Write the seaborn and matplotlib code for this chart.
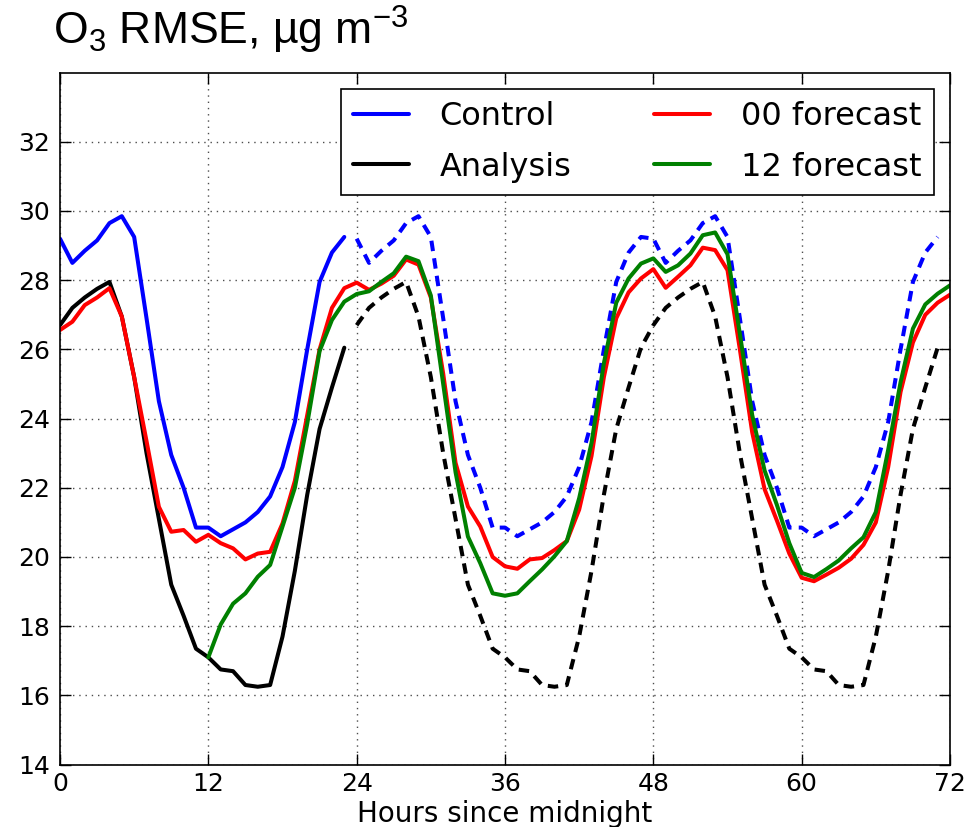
import matplotlib
matplotlib.use("Agg")
import matplotlib.pyplot as plt
import seaborn as sns

# ---------------- data ----------------
hours_day1 = list(range(0, 24))
hours_rest = list(range(24, 72))
hours_00 = list(range(0, 73))
hours_12 = list(range(12, 73))

control_day1 = [29.2, 28.5, 28.85, 29.15, 29.65, 29.85, 29.25, 26.9, 24.5, 22.95, 22.0, 20.85,
                20.85, 20.6, 20.8, 21.0, 21.3, 21.75, 22.6, 23.9, 26.0, 27.95, 28.8, 29.25]
control_rest = [29.2, 28.5, 28.85, 29.15, 29.65, 29.85, 29.25, 26.9, 24.5, 22.95, 22.0, 20.85,
                20.85, 20.6, 20.8, 21.0, 21.3, 21.75, 22.6, 23.9, 26.0, 27.95, 28.8, 29.25,
                29.2, 28.5, 28.85, 29.15, 29.65, 29.85, 29.25, 26.9, 24.5, 22.95, 22.0, 20.85,
                20.85, 20.6, 20.8, 21.0, 21.3, 21.75, 22.6, 23.9, 26.0, 27.95, 28.8, 29.25]

analysis_day1 = [26.7, 27.2, 27.5, 27.75, 27.95, 26.95, 25.2, 23.0, 21.1, 19.2, 18.3, 17.35,
                 17.1, 16.75, 16.7, 16.3, 16.25, 16.3, 17.7, 19.6, 21.8, 23.7, 24.9, 26.05]
analysis_rest = [26.7, 27.2, 27.5, 27.75, 27.95, 26.95, 25.2, 23.0, 21.1, 19.2, 18.3, 17.35,
                 17.1, 16.75, 16.7, 16.3, 16.25, 16.3, 17.7, 19.6, 21.8, 23.7, 24.9, 26.05,
                 26.7, 27.2, 27.5, 27.75, 27.95, 26.95, 25.2, 23.0, 21.1, 19.2, 18.3, 17.35,
                 17.1, 16.75, 16.7, 16.3, 16.25, 16.3, 17.7, 19.6, 21.8, 23.7, 24.9, 26.05]

forecast_00 = [26.56, 26.8, 27.28, 27.5, 27.77, 26.95, 25.2, 23.35, 21.45, 20.73, 20.78, 20.44,
               20.64, 20.4, 20.25, 19.93, 20.1, 20.15, 20.97, 22.2, 24.1, 26.0, 27.2, 27.77,
               27.93, 27.72, 27.9, 28.13, 28.6, 28.45, 27.5, 25.3, 22.72, 21.46, 20.88, 20.0,
               19.73, 19.66, 19.93, 19.97, 20.2, 20.46, 21.37, 22.92, 25.2, 26.9, 27.65, 28.05,
               28.32, 27.78, 28.1, 28.43, 28.94, 28.87, 28.29, 26.0, 23.6, 21.96, 21.05, 20.1,
               19.4, 19.3, 19.49, 19.69, 19.95, 20.35, 21.0, 22.6, 24.77, 26.2, 27.0, 27.35,
               27.58]

forecast_12 = [17.1, 18.05, 18.65, 18.95, 19.43, 19.77, 20.88, 22.0, 23.85, 25.95, 26.85, 27.38,
               27.6, 27.68, 27.95, 28.2, 28.68, 28.55, 27.56, 25.0, 22.45, 20.59, 19.82, 18.95,
               18.88, 18.95, 19.3, 19.64, 20.02, 20.46, 21.7, 23.3, 25.6, 27.35, 28.05, 28.48,
               28.63, 28.24, 28.43, 28.77, 29.3, 29.38, 28.75, 26.45, 24.1, 22.5, 21.5, 20.4,
               19.54, 19.42, 19.65, 19.9, 20.25, 20.57, 21.3, 23.1, 25.05, 26.6, 27.3, 27.61,
               27.85]

xticks = [0, 12, 24, 36, 48, 60, 72]
yticks = [14, 16, 18, 20, 22, 24, 26, 28, 30, 32]
legend_labels = ["Control", "Analysis", "00 forecast", "12 forecast"]

# ---------------- style ----------------
sns.set_style("ticks")
plt.rcParams["font.family"] = ["DejaVu Sans"]
plt.rcParams["mathtext.default"] = "regular"
plt.rcParams["text.color"] = "black"
plt.rcParams["axes.labelcolor"] = "black"
plt.rcParams["xtick.color"] = "black"
plt.rcParams["ytick.color"] = "black"

W, H = 978, 827
fig = plt.figure(figsize=(W / 100, H / 100), dpi=100)
ax = fig.add_axes([60 / W, 1 - 764.6 / H, 890 / W, (764.6 - 72.6) / H])

LW = 2.9
DASH = (0, (2.6, 1.8))


def draw(x, y, color, ls, label=None):
    kw = dict(x=x, y=y, color=color, linestyle=ls, linewidth=LW, ax=ax,
              errorbar=None, estimator=None, sort=False, legend=False)
    if label is not None:
        kw["label"] = label
    sns.lineplot(**kw)
    return ax.lines[-1]


l_ctrl = draw(hours_day1, control_day1, "#0000ff", "-")
l_anal = draw(hours_day1, analysis_day1, "black", "-")
draw(hours_rest, control_rest, "#0000ff", DASH)
draw(hours_rest, analysis_rest, "black", DASH)
l_00 = draw(hours_00, forecast_00, "#ff0000", "-")
l_12 = draw(hours_12, forecast_12, "#008000", "-")

ax.set_xlim(0, 72)
ax.set_ylim(14, 34)
ax.set_xticks(xticks)
ax.set_yticks(yticks)
ax.set_xlabel("Hours since midnight", fontsize=20, labelpad=3, color="black")
ax.set_ylabel("")

ax.set_axisbelow(True)
ax.grid(True, color="0.3", linestyle=(0, (1, 3.5)), linewidth=1.0)
ax.tick_params(direction="in", top=True, right=True, length=8, width=1,
               labelsize=18, colors="black", labelcolor="black")
ax.tick_params(axis="y", pad=7)
ax.tick_params(axis="x", pad=5)
for s in ax.spines.values():
    s.set_visible(True)
    s.set_color("black")
    s.set_linewidth(1.2)

leg = ax.legend(handles=[l_ctrl, l_anal, l_00, l_12], labels=legend_labels,
                loc="upper right", ncol=2, fontsize=23, frameon=True,
                fancybox=False, edgecolor="black", framealpha=1,
                handlelength=1.75, handletextpad=0.95, columnspacing=2.6,
                borderaxespad=0.5, borderpad=0.4, labelspacing=0.6)
leg.get_frame().set_linewidth(1.2)
for t in leg.get_texts():
    t.set_color("black")

fig.text(53 / W, 1 - 45 / H, "O$_3$ RMSE, µg m$^{-3}$", fontsize=32,
         family="Liberation Sans", ha="left", va="baseline", color="black")

fig.savefig("out.png", dpi=100)
